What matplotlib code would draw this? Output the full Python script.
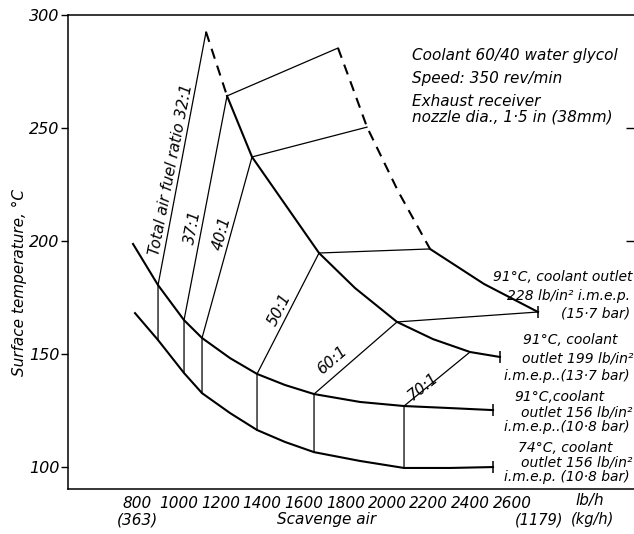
import matplotlib.pyplot as plt

# Scavenge air (lb/h) and surface temperature (deg C)
# 91 C coolant outlet, 228 lb/in2 i.m.e.p. (dashed part is extrapolated)
air_228_dash = [1764.8, 1832.0, 1904.0, 2052.8, 2206.4]
temp_228_dash = [285.4, 268.6, 250.4, 222.1, 196.5]
air_228 = [2206.4, 2465.6, 2724.8]
temp_228 = [196.5, 181.0, 168.6]

# 91 C coolant outlet, 199 lb/in2 i.m.e.p.
air_199_dash = [1131.2, 1232.0]
temp_199_dash = [292.5, 264.2]
air_199 = [1232.0, 1352.0, 1520.0, 1673.6, 1846.4, 2048.0, 2220.8, 2398.4, 2542.4]
temp_199 = [264.2, 237.2, 215.0, 194.7, 179.2, 164.2, 156.6, 150.9, 148.7]

# 91 C coolant outlet, 156 lb/in2 i.m.e.p.
air_156 = [780.8, 900.8, 1025.6, 1112.0, 1246.4, 1376.0, 1510.4, 1649.6,
           1870.4, 2081.6, 2302.4, 2508.8]
temp_156_91 = [198.7, 180.5, 165.0, 157.1, 148.2, 141.2, 136.3, 132.3,
               128.8, 127.0, 126.1, 125.2]
# 74 C coolant outlet, 156 lb/in2 i.m.e.p.
air_156_74 = [790.4, 900.8, 1025.6, 1112.0, 1246.4, 1376.0, 1510.4, 1649.6,
              1870.4, 2081.6, 2302.4, 2508.8]
temp_156_74 = [168.1, 156.2, 141.6, 132.7, 123.9, 116.4, 111.1, 106.6,
               102.7, 99.6, 99.6, 100.0]

# lines of constant total air/fuel ratio (points on 74C-156, 91C-156, 199, 228 curves)
ratio_names = ["32:1", "37:1", "40:1", "50:1", "60:1", "70:1"]
ratio_air = [
    [900.8, 900.8, 1131.2],
    [1025.6, 1025.6, 1232.0, 1764.8],
    [1112.0, 1112.0, 1352.0, 1904.0],
    [1376.0, 1376.0, 1673.6, 2206.4],
    [1649.6, 1649.6, 2048.0, 2724.8],
    [2081.6, 2081.6, 2398.4],
]
ratio_temp = [
    [156.2, 180.5, 292.5],
    [141.6, 165.0, 264.2, 285.4],
    [132.7, 157.1, 237.2, 250.4],
    [116.4, 141.2, 194.7, 196.5],
    [106.6, 132.3, 164.2, 168.6],
    [99.6, 127.0, 150.9],
]

x_ticks = [800, 1000, 1200, 1400, 1600, 1800, 2000, 2200, 2400, 2600]
y_ticks = [100, 150, 200, 250, 300]

plt.rcParams['font.family'] = 'DejaVu Sans'
plt.rcParams['font.style'] = 'italic'

fig = plt.figure(figsize=(6.34, 5.34), dpi=100)
ax = fig.add_axes([0.1073, 0.0843, 0.9022, 0.8876])

# load curves
ax.plot(air_228_dash, temp_228_dash, color='black', lw=1.5, ls=(0, (5, 3.5)))
ax.plot(air_228, temp_228, color='black', lw=1.5)
ax.plot(air_199_dash, temp_199_dash, color='black', lw=1.5, ls=(0, (5, 3.5)))
ax.plot(air_199, temp_199, color='black', lw=1.5)
ax.plot(air_156, temp_156_91, color='black', lw=1.5)
ax.plot(air_156_74, temp_156_74, color='black', lw=1.5)
for xs, ys in [(air_228, temp_228), (air_199, temp_199),
               (air_156, temp_156_91), (air_156_74, temp_156_74)]:
    ax.plot(xs[-1:], ys[-1:], marker='|', ms=8, mew=1.1, color='black')

# air/fuel ratio lines
for xs, ys in zip(ratio_air, ratio_temp):
    ax.plot(xs, ys, color='black', lw=0.9)

# ratio labels
ax.text(963, 231.4, "Total air fuel ratio 32:1", rotation=79, fontsize=11,
        ha='center', va='center')
ax.text(1069, 206.2, ratio_names[1], rotation=79, fontsize=11, ha='center', va='center')
ax.text(1206, 203.5, ratio_names[2], rotation=75, fontsize=11, ha='center', va='center')
ax.text(1486, 169.5, ratio_names[3], rotation=63, fontsize=11, ha='center', va='center')
ax.text(1736, 147.3, ratio_names[4], rotation=41, fontsize=11, ha='center', va='center')
ax.text(2173, 135.4, ratio_names[5], rotation=39, fontsize=11, ha='center', va='center')

# curve labels (right edges)
curve_labels = [
    (3176, 184.1, "91°C, coolant outlet"),
    (3166, 175.7, "228 lb/in² i.m.e.p."),
    (3166, 168.1, "(15·7 bar)"),
    (3104, 156.2, "91°C, coolant"),
    (3181, 148.2, "outlet 199 lb/in²"),
    (3166, 140.3, "i.m.e.p..(13·7 bar)"),
    (3046, 131.0, "91°C,coolant"),
    (3176, 124.3, "outlet 156 lb/in²"),
    (3166, 117.7, "i.m.e.p..(10·8 bar)"),
    (3080, 108.4, "74°C, coolant"),
    (3176, 101.8, "outlet 156 lb/in²"),
    (3166, 95.6, "i.m.e.p. (10·8 bar)"),
]
for x, y, s in curve_labels:
    ax.text(x, y, s, fontsize=10, ha='right', va='center')

# conditions note
ax.text(2120, 282.3, "Coolant 60/40 water glycol", fontsize=11, va='center')
ax.text(2120, 271.7, "Speed: 350 rev/min", fontsize=11, va='center')
ax.text(2120, 261.9, "Exhaust receiver", fontsize=11, va='center')
ax.text(2120, 254.9, "nozzle dia., 1·5 in (38mm)", fontsize=11, va='center')

ax.set_xlim(468.8, 3214.4)
ax.set_ylim(90.3, 300)
ax.set_xticks(x_ticks)
ax.set_xticklabels([str(v) for v in x_ticks], fontsize=11)
ax.tick_params(axis='x', length=0, pad=5)
ax.set_yticks(y_ticks)
ax.set_yticklabels([str(v) for v in y_ticks], fontsize=11.5)
ax.tick_params(axis='y', direction='out', length=5, width=1, pad=1)
for sp in ax.spines.values():
    sp.set_linewidth(1.1)

right = ax.secondary_yaxis('right')
right.set_yticks([200, 250])
right.set_yticklabels([])
right.tick_params(direction='in', length=10, width=1)

# second row under the x axis
tr = ax.get_xaxis_transform()
ax.text(800, -0.065, "(363)", transform=tr, fontsize=11, ha='center', va='center')
ax.text(1710, -0.065, "Scavenge air", transform=tr, fontsize=11, ha='center', va='center')
ax.text(2730, -0.065, "(1179)", transform=tr, fontsize=10.5, ha='center', va='center')
ax.text(2974, -0.025, "lb/h", transform=tr, fontsize=11, ha='center', va='center')
ax.text(2985, -0.065, "(kg/h)", transform=tr, fontsize=10.5, ha='center', va='center')

ax.text(-0.085, 0.435, "Surface temperature, °C", transform=ax.transAxes, rotation=90,
        fontsize=11, ha='center', va='center')

fig.savefig('out.png', dpi=100)
